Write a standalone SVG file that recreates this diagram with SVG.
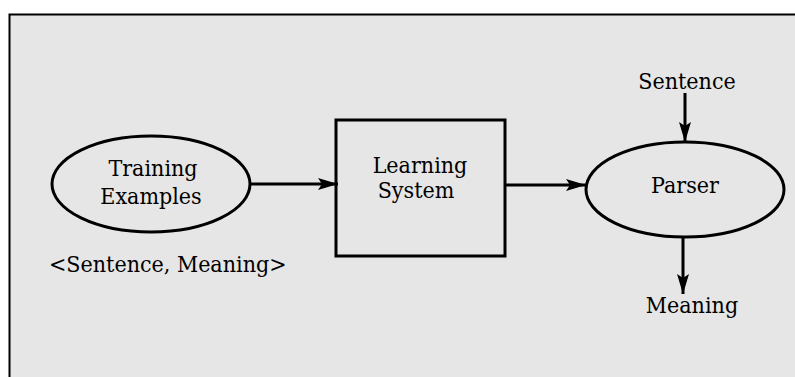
<svg xmlns="http://www.w3.org/2000/svg" width="795" height="377" viewBox="0 0 795 377">
<defs>
<style>
text{font-family:"DejaVu Serif Condensed","DejaVu Serif","Liberation Serif",serif;font-size:23px;fill:#000;}
.c{text-anchor:middle;}
.shape{fill:none;stroke:#000;stroke-width:3;}
.edge{stroke:#000;stroke-width:3;fill:none;}
</style>
<marker id="ah" viewBox="0 0 20 12" refX="20" refY="6" markerWidth="20" markerHeight="12" markerUnits="userSpaceOnUse" orient="auto">
<path d="M0,0 L20,6 L0,12 L4,6 Z" fill="#000"/>
</marker>
</defs>
<rect x="0" y="0" width="795" height="377" fill="#fff"/>
<rect x="9.5" y="14.5" width="800" height="380" fill="#e6e6e6" stroke="#000" stroke-width="2"/>
<g id="training">
<ellipse class="shape" cx="151" cy="184" rx="99" ry="48"/>
<text class="c" x="153" y="176">Training</text>
<text class="c" x="151" y="204">Examples</text>
</g>
<text x="49" y="272">&lt;Sentence, Meaning&gt;</text>
<g id="learning">
<rect class="shape" x="336" y="120" width="169" height="136"/>
<text class="c" x="420" y="173">Learning</text>
<text class="c" x="416" y="198">System</text>
</g>
<g id="parser">
<ellipse class="shape" cx="685" cy="189.5" rx="99" ry="47.5"/>
<text class="c" x="685" y="193">Parser</text>
</g>
<text class="c" x="687" y="89">Sentence</text>
<text class="c" x="692" y="313">Meaning</text>
<g id="connectors">
<line class="edge" x1="250" y1="184" x2="338" y2="184" marker-end="url(#ah)"/>
<line class="edge" x1="505" y1="185" x2="586" y2="185" marker-end="url(#ah)"/>
<line class="edge" x1="685" y1="93" x2="685" y2="142" marker-end="url(#ah)"/>
<line class="edge" x1="683" y1="237" x2="683" y2="294" marker-end="url(#ah)"/>
</g>
</svg>
